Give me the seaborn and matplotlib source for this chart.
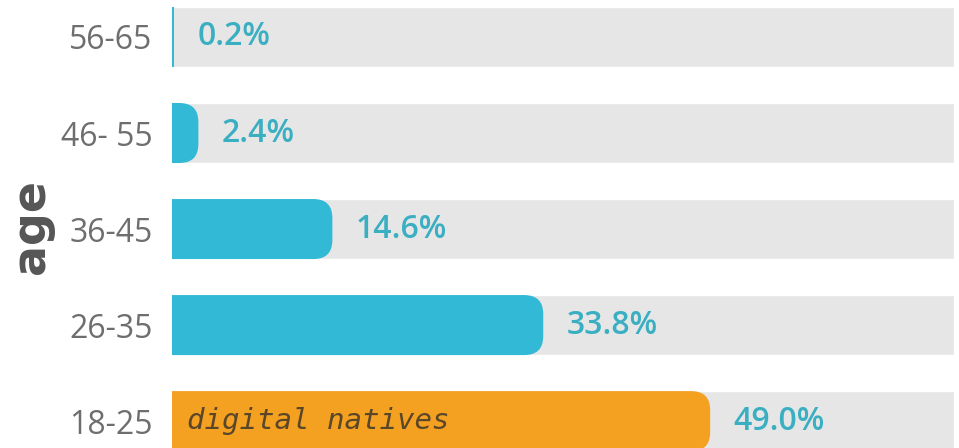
import matplotlib.pyplot as plt
import pandas as pd
import seaborn as sns
from matplotlib.patches import FancyBboxPatch

# data
age_groups = ["56-65", "46- 55", "36-45", "26-35", "18-25"]
shares = [0.2, 2.4, 14.6, 33.8, 49.0]
value_labels = ["0.2%", "2.4%", "14.6%", "33.8%", "49.0%"]
highlight_group = "18-25"
highlight_note = "digital natives"

BLUE = "#31B9D5"
ORANGE = "#F4A021"
TRACK = "#E6E6E6"
TEAL_TEXT = "#3AAFC2"
TICK_GREY = "#6E6E6E"

X_MAX = 71.2
BAR_H = 0.625

df = pd.DataFrame({"age": age_groups, "share": shares, "label": value_labels})
df["track"] = X_MAX

sns.set_theme(style="white")
plt.rcParams["font.family"] = ["Open Sans", "DejaVu Sans"]

fig = plt.figure(figsize=(9.59, 4.48), dpi=100)
ax = fig.add_axes([172 / 959, 0, (954 - 172) / 959, 1])

# grey tracks
sns.barplot(data=df, x="track", y="age", color=TRACK, width=BAR_H,
            saturation=1, ax=ax, orient="h")

# value bars, drawn with seaborn and then given round right ends
n_before = len(ax.patches)
palette = {g: (ORANGE if g == highlight_group else BLUE) for g in age_groups}
sns.barplot(data=df, x="share", y="age", hue="age", palette=palette, width=BAR_H,
            saturation=1, legend=False, ax=ax, orient="h")

ax.set_xlim(0, X_MAX)
ax.set_ylim(4.28, -0.385)

px_per_x = (954 - 172) / X_MAX
px_per_y = 96.0
radius = 19 / px_per_x
for bar in list(ax.patches[n_before:]):
    x0, y0 = bar.get_x(), bar.get_y()
    w, h = bar.get_width(), bar.get_height()
    fc = bar.get_facecolor()
    bar.set_visible(False)
    if w <= 0.3:
        ax.add_patch(plt.Rectangle((x0, y0), w, h, facecolor=fc, edgecolor="none"))
        continue
    r = min(radius, w * 0.9)
    box = FancyBboxPatch((x0 - 3, y0), w + 3, h,
                         boxstyle=f"round,pad=0,rounding_size={r}",
                         mutation_aspect=px_per_x / px_per_y,
                         facecolor=fc, edgecolor="none")
    ax.add_patch(box)

for i, row in df.iterrows():
    ax.annotate(row["label"], xy=(row["share"], i), xytext=(17, 0),
                textcoords="offset points", ha="left", va="center",
                fontsize=23, fontweight="semibold", color=TEAL_TEXT)

hi = age_groups.index(highlight_group)
ax.text(1.4, hi, highlight_note, ha="left", va="center", fontsize=21,
        style="italic", family="DejaVu Sans Mono", color="#5A4628")

ax.set_xlabel("")
ax.set_ylabel("")
ax.set_xticks([])
ax.tick_params(axis="y", length=0, pad=14, labelsize=23, labelcolor=TICK_GREY)
for s in ax.spines.values():
    s.set_visible(False)

fig.text(31 / 959, 1 - 226 / 448, "age", rotation=90, ha="center", va="center",
         fontsize=33, fontweight="bold", color="#565656", family="DejaVu Sans")

fig.savefig("out.png", dpi=100)
